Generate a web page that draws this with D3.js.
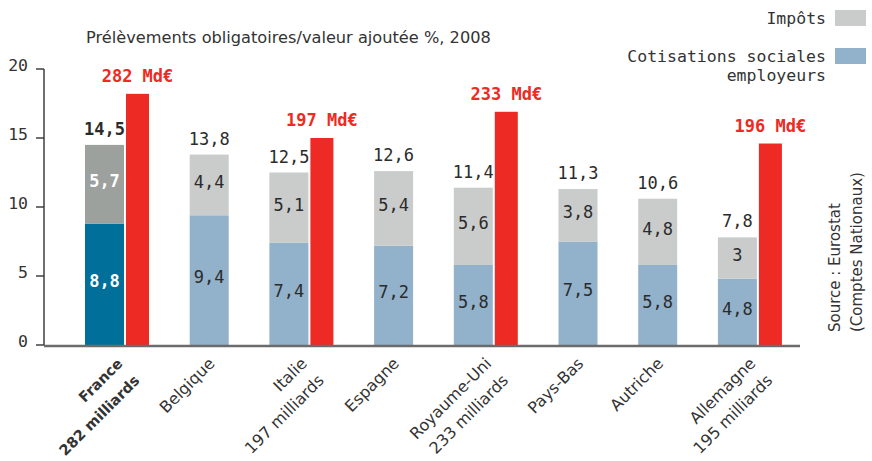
<!DOCTYPE html>
<html>
<head>
<meta charset="utf-8">
<script src="https://cdn.jsdelivr.net/npm/d3@7"></script>
<style>
    body { margin: 0; background: #fff; }
    svg { display: block; }
    .mono { font-family: "DejaVu Sans Mono", monospace; }
    .sans { font-family: "DejaVu Sans", sans-serif; }
</style>
</head>
<body>
<script>
(function () {

    //chart data
    var countries = ["France", "Belgique", "Italie", "Espagne", "Royaume-Uni", "Pays-Bas", "Autriche", "Allemagne"];
    var countryLines = [["France", "282 milliards"], ["Belgique"], ["Italie", "197 milliards"], ["Espagne"],
        ["Royaume-Uni", "233 milliards"], ["Pays-Bas"], ["Autriche"], ["Allemagne", "195 milliards"]];
    var cotisations = [8.8, 9.4, 7.4, 7.2, 5.8, 7.5, 5.8, 4.8];
    var impots = [5.7, 4.4, 5.1, 5.4, 5.6, 3.8, 4.8, 3];
    var totals = [14.5, 13.8, 12.5, 12.6, 11.4, 11.3, 10.6, 7.8];
    var redValues = [18.2, null, 15.0, null, 16.9, null, null, 14.6];
    var redLabels = ["282 Md€", null, "197 Md€", null, "233 Md€", null, null, "196 Md€"];
    var yTicks = [0, 5, 10, 15, 20];
    var title = "Prélèvements obligatoires/valeur ajoutée %, 2008";
    var legendItems = [["Impôts"], ["Cotisations sociales", "employeurs"]];
    var sourceLines = ["Source : Eurostat", "(Comptes Nationaux)"];

    var width = 872,
        height = 461;

    var colors = {
        cot: "#92b1ca", imp: "#c9cccb",
        cotFr: "#00709b", impFr: "#9da19e",
        red: "#ee2a24", text: "#2b2b2b"
    };

    var svg = d3.select("body")
        .append("svg")
        .attr("width", width)
        .attr("height", height);

    //y scale: value -> pixel
    var y = d3.scaleLinear()
        .domain([0, 20])
        .range([345, 69]);

    //group layout: gray bar, optional red bar, then a gap
    var barW = 39, redW = 23, innerGap = 2, groupGap = 40.7;
    var groups = [];
    var cursor = 0;
    countries.forEach(function (c, i) {
        var w = barW + (redValues[i] != null ? innerGap + redW : 0);
        groups.push({ start: cursor, width: w });
        cursor += w + groupGap;
    });
    var totalUnits = cursor - groupGap;
    var x = d3.scaleLinear()
        .domain([0, totalUnits])
        .range([85, 85 + totalUnits]);

    var data = countries.map(function (c, i) {
        return {
            name: c, lines: countryLines[i], cot: cotisations[i], imp: impots[i],
            total: totals[i], red: redValues[i], redLabel: redLabels[i],
            x0: x(groups[i].start), gw: groups[i].width, fr: i === 0
        };
    });

    //title
    svg.append("text")
        .attr("class", "sans")
        .attr("x", 86)
        .attr("y", 43)
        .style("font-size", "16.2px")
        .style("fill", "#333")
        .text(title);

    //y axis
    var yAxis = svg.append("g").attr("class", "yAxis");
    yAxis.append("line")
        .attr("x1", 44).attr("x2", 44)
        .attr("y1", y(20)).attr("y2", y(0))
        .style("stroke", "#333").style("stroke-width", 1.4);
    yAxis.selectAll(".tick")
        .data(yTicks)
        .enter()
        .append("line")
        .attr("x1", 36).attr("x2", 44)
        .attr("y1", function (d) { return y(d); })
        .attr("y2", function (d) { return y(d); })
        .style("stroke", "#333").style("stroke-width", 1.4);
    yAxis.selectAll(".tickLabel")
        .data(yTicks)
        .enter()
        .append("text")
        .attr("class", "mono")
        .attr("x", 28)
        .attr("y", function (d) { return y(d) + 2; })
        .attr("text-anchor", "end")
        .style("font-size", "16.5px")
        .style("fill", "#333")
        .text(function (d) { return d; });

    //stacked bars
    var bars = svg.selectAll(".group")
        .data(data)
        .enter()
        .append("g")
        .attr("class", "group");

    bars.append("rect")
        .attr("x", function (d) { return d.x0; })
        .attr("width", barW)
        .attr("y", function (d) { return y(d.cot); })
        .attr("height", function (d) { return y(0) - y(d.cot); })
        .style("fill", function (d) { return d.fr ? colors.cotFr : colors.cot; });

    bars.append("rect")
        .attr("x", function (d) { return d.x0; })
        .attr("width", barW)
        .attr("y", function (d) { return y(d.cot + d.imp); })
        .attr("height", function (d) { return y(d.cot) - y(d.cot + d.imp); })
        .style("fill", function (d) { return d.fr ? colors.impFr : colors.imp; });

    //red bars (Md€)
    bars.filter(function (d) { return d.red != null; })
        .append("rect")
        .attr("x", function (d) { return d.x0 + barW + innerGap; })
        .attr("width", redW)
        .attr("y", function (d) { return y(d.red); })
        .attr("height", function (d) { return y(0) - y(d.red); })
        .style("fill", colors.red);

    bars.filter(function (d) { return d.red != null; })
        .append("text")
        .attr("class", "mono")
        .attr("x", function (d) { return d.x0 + barW + innerGap + redW / 2; })
        .attr("y", function (d) { return y(d.red) - 12; })
        .attr("text-anchor", "middle")
        .style("font-size", "17px")
        .style("font-weight", "bold")
        .style("fill", colors.red)
        .text(function (d) { return d.redLabel; });

    //value labels
    function fmt(v) { return String(v).replace(".", ","); }

    bars.append("text")
        .attr("class", "mono")
        .attr("x", function (d) { return d.x0 + barW / 2; })
        .attr("y", function (d) { return y(d.total) - 10; })
        .attr("text-anchor", "middle")
        .style("font-size", "17px")
        .style("font-weight", function (d) { return d.fr ? "bold" : "normal"; })
        .style("fill", colors.text)
        .text(function (d) { return fmt(d.total); });

    bars.append("text")
        .attr("class", "mono")
        .attr("x", function (d) { return d.x0 + barW / 2; })
        .attr("y", function (d) { return y(d.cot + d.imp / 2) + 3; })
        .attr("text-anchor", "middle")
        .style("font-size", "17px")
        .style("font-weight", function (d) { return d.fr ? "bold" : "normal"; })
        .style("fill", function (d) { return d.fr ? "#fff" : colors.text; })
        .text(function (d) { return fmt(d.imp); });

    bars.append("text")
        .attr("class", "mono")
        .attr("x", function (d) { return d.x0 + barW / 2; })
        .attr("y", function (d) { return y(d.cot / 2) + 3; })
        .attr("text-anchor", "middle")
        .style("font-size", "17px")
        .style("font-weight", function (d) { return d.fr ? "bold" : "normal"; })
        .style("fill", function (d) { return d.fr ? "#fff" : colors.text; })
        .text(function (d) { return fmt(d.cot); });

    //x axis baseline
    svg.append("line")
        .attr("x1", 44).attr("x2", 800)
        .attr("y1", y(0) + 1).attr("y2", y(0) + 1)
        .style("stroke", "#6b6b6b").style("stroke-width", 2.4);

    //rotated country labels
    var xLabels = bars.append("text")
        .attr("class", "sans")
        .attr("text-anchor", "end")
        .attr("transform", function (d) {
            return "translate(" + (d.x0 + d.gw / 2 - 2) + ",356) rotate(-45)";
        })
        .style("font-size", function (d) { return d.fr ? "14.5px" : "16px"; })
        .style("font-weight", function (d) { return d.fr ? "bold" : "normal"; })
        .style("fill", "#333");

    xLabels.selectAll("tspan")
        .data(function (d) { return d.lines; })
        .enter()
        .append("tspan")
        .attr("x", 0)
        .attr("y", function (d, i) { return 12 + i * 24; })
        .text(function (d) { return d; });

    //legend
    var legend = svg.selectAll(".legend")
        .data(legendItems)
        .enter()
        .append("g")
        .attr("class", "legend")
        .attr("transform", function (d, i) { return "translate(0," + (i * 38) + ")"; });

    legend.append("rect")
        .attr("x", 835).attr("y", 10)
        .attr("width", 31).attr("height", 16)
        .style("fill", function (d, i) { return i === 0 ? colors.imp : colors.cot; });

    legend.append("text")
        .attr("class", "mono")
        .attr("text-anchor", "end")
        .style("font-size", "16.5px")
        .style("fill", "#333")
        .selectAll("tspan")
        .data(function (d) { return d; })
        .enter()
        .append("tspan")
        .attr("x", 826)
        .attr("y", function (d, i) { return 24 + i * 19; })
        .text(function (d) { return d; });

    //source
    svg.append("text")
        .attr("class", "sans")
        .attr("transform", "translate(0,332) rotate(-90)")
        .style("font-size", "15px")
        .style("fill", "#333")
        .selectAll("tspan")
        .data(sourceLines)
        .enter()
        .append("tspan")
        .attr("x", 0)
        .attr("y", function (d, i) { return 840 + i * 22; })
        .text(function (d) { return d; });

})();
</script>
</body>
</html>
